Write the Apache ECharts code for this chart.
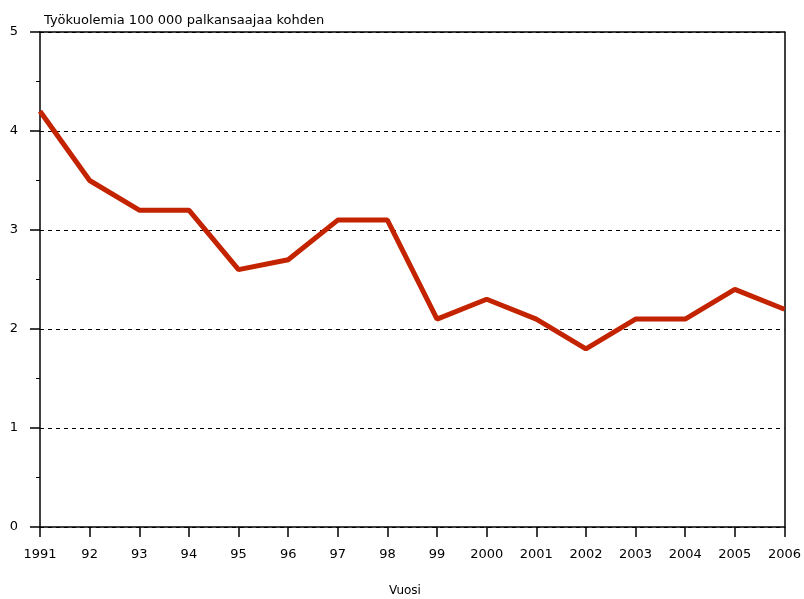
<!DOCTYPE html>
<html>
<head>
<meta charset="utf-8">
<script src="https://cdn.jsdelivr.net/npm/echarts@6/dist/echarts.min.js"></script>
<style>
  html, body { margin: 0; padding: 0; background: #fff; overflow: hidden; }
  #main { width: 804px; height: 599px; }
</style>
</head>
<body>
<div id="main"></div>
<script>
var years = ['1991','92','93','94','95','96','97','98','99','2000','2001','2002','2003','2004','2005','2006'];
var deaths = [4.2, 3.5, 3.2, 3.2, 2.6, 2.7, 3.1, 3.1, 2.1, 2.3, 2.1, 1.8, 2.1, 2.1, 2.4, 2.2];
var yTicks = [0, 5, 1]; // min, max, interval

var myChart = echarts.init(document.getElementById('main'));
var font = 'DejaVu Sans';

var option = {
	animation: false,
	title: {
		text: 'Työkuolemia 100 000 palkansaajaa kohden',
		left: 39,
		top: 9,
		textStyle: { fontFamily: font, fontSize: 13, fontWeight: 'normal', color: '#000' }
	},
	graphic: [
		{
			type: 'text',
			left: 389,
			top: 585,
			style: { text: 'Vuosi', font: '12px "DejaVu Sans"', fill: '#000' }
		}
	],
	grid: { left: 40, right: 17, top: 32, bottom: 72 },
	xAxis: [
		{
			type: 'category',
			data: years,
			boundaryGap: false,
			z: 3,
			axisLine: { lineStyle: { color: '#000', width: 1.5 } },
			axisTick: { alignWithLabel: true, length: 10, lineStyle: { color: '#000', width: 1.5 } },
			axisLabel: { fontFamily: font, fontSize: 13, color: '#000', margin: 21, interval: 0 },
			splitLine: { show: false }
		},
		{
			type: 'category',
			position: 'top',
			data: years,
			boundaryGap: false,
			z: 3,
			axisLine: { onZero: false, lineStyle: { color: '#000', width: 1.5 } },
			axisTick: { show: false },
			axisLabel: { show: false }
		}
	],
	yAxis: [
		{
			type: 'value',
			min: yTicks[0],
			max: yTicks[1],
			interval: yTicks[2],
			z: 1,
			axisLine: { show: true, lineStyle: { color: '#000', width: 1.5 } },
			axisTick: { show: true, length: 10, lineStyle: { color: '#000', width: 1.5 } },
			minorTick: { show: true, splitNumber: 2, length: 4, lineStyle: { color: '#000', width: 1 } },
			axisLabel: { fontFamily: font, fontSize: 13, color: '#000', margin: 22 },
			splitLine: { show: true, lineStyle: { color: '#000', type: [4, 4], width: 1 } }
		},
		{
			type: 'value',
			position: 'right',
			min: yTicks[0],
			max: yTicks[1],
			interval: yTicks[2],
			z: 3,
			axisLine: { show: true, onZero: false, lineStyle: { color: '#000', width: 1.5 } },
			axisTick: { show: false },
			axisLabel: { show: false },
			splitLine: { show: false }
		}
	],
	series: [
		{
			type: 'line',
			data: deaths,
			symbol: 'none',
			lineStyle: { color: '#c42300', width: 5 },
			z: 5
		}
	]
};
myChart.setOption(option);
</script>
</body>
</html>
